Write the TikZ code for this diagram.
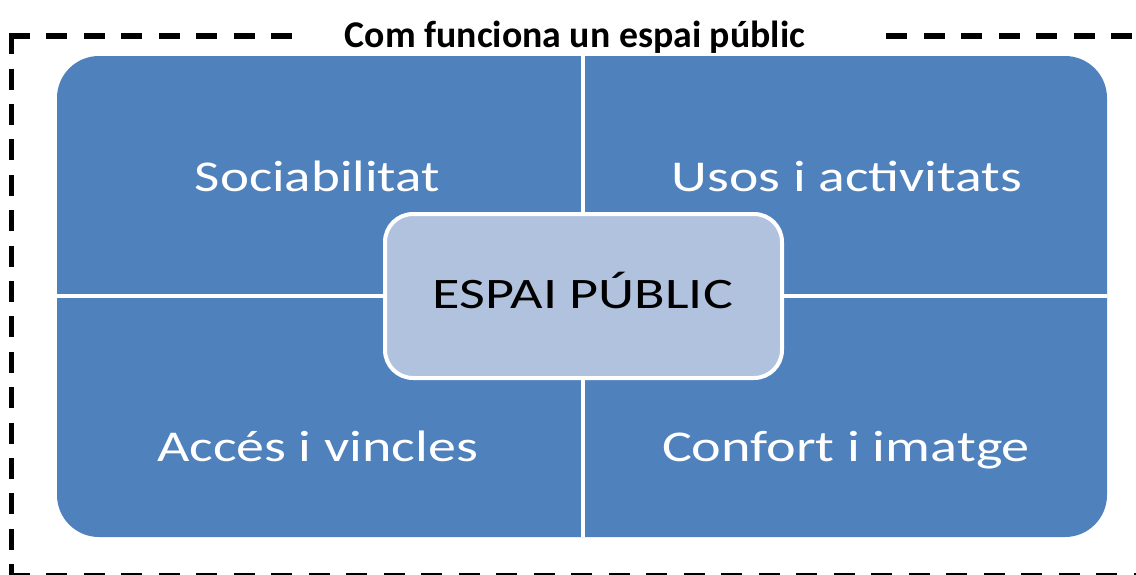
\documentclass[tikz,border=0pt]{standalone}
\usepackage{fontspec}
\setmainfont{Carlito}
\usepackage{graphicx}
\definecolor{qblue}{RGB}{79,129,189}
\definecolor{cfill}{RGB}{177,194,222}
\newcommand\wfit[2]{\resizebox{#1}{\height}{#2}}
\tikzset{
  hframe/.style={line width=5.5pt, dash pattern=on 21pt off 16.5pt},
  vframe/.style={line width=5.5pt, dash pattern=on 21pt off 14.4pt},
  divider/.style={white, line width=4pt},
  quadlabel/.style={text=white, font=\fontsize{44}{44}\selectfont, inner sep=0pt, anchor=base},
  corelabel/.style={text=black, font=\fontsize{43.5}{43.5}\selectfont, inner sep=0pt, anchor=base},
  titlelabel/.style={text=black, font=\fontsize{37.8}{37.8}\selectfont\bfseries, inner sep=0pt, anchor=base},
}
\begin{document}
\begin{tikzpicture}[x=1pt,y=-1pt]
\clip (0,0) rectangle (1136,574);
\fill[white] (0,0) rectangle (1136,574);
% dashed frame
\draw[hframe] (8.75,36) -- (294,36);
\draw[hframe] (886,36) -- (1150,36);
\draw[hframe] (8.75,576.2) -- (1150,576.2);
\draw[vframe] (11.5,33.25) -- (11.5,590);
% title
\node[titlelabel] (title) at (575,47) {\wfit{460pt}{Com funciona un espai públic}};
% blue panel
\node[fill=qblue, draw=none, rounded corners=42pt, minimum width=1050pt, minimum height=481pt, inner sep=0pt] (panel) at (582,296.5) {};
\draw[divider] (582.5,56) -- (582.5,537);
\draw[divider] (57,295.5) -- (1107,295.5);
% quadrant labels
\node[quadlabel] (soc) at (317.5,191.7) {\wfit{245pt}{Sociabilitat}};
\node[quadlabel] (usos) at (847,191.7) {\wfit{350pt}{Usos i activitats}};
\node[quadlabel] (acces) at (317.5,461.7) {\wfit{321pt}{Accés i vincles}};
\node[quadlabel] (confort) at (846,461.7) {\wfit{368pt}{Confort i imatge}};
% centre box
\node[fill=cfill, draw=white, line width=4pt, rounded corners=28pt, minimum width=397pt, minimum height=164pt, inner sep=0pt] (core) at (583.5,296) {};
\node[corelabel] (corelbl) at (583,308) {\wfit{300pt}{ESPAI PÚBLIC}};
\end{tikzpicture}
\end{document}
